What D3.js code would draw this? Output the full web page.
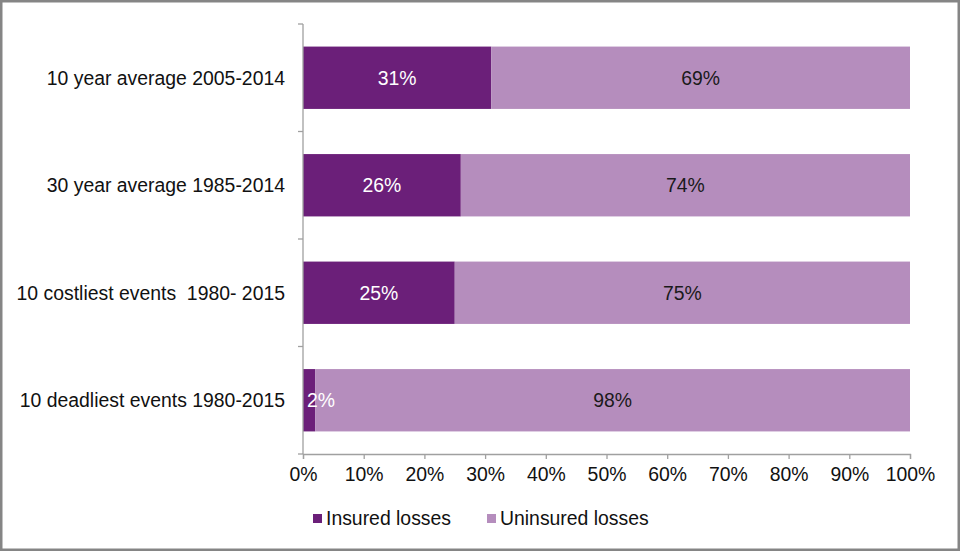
<!DOCTYPE html>
<html><head><meta charset="utf-8">
<script src="https://cdn.jsdelivr.net/npm/d3@7"></script>
<style>html,body{margin:0;padding:0;background:#fff;}svg{display:block;font-family:"Liberation Sans",Arial,sans-serif;}text{white-space:pre;}</style>
</head><body>
<script>
const categories = ["10 year average 2005-2014","30 year average 1985-2014","10 costliest events  1980- 2015","10 deadliest events 1980-2015"];
const insured = [31, 26, 25, 2];
const uninsured = [69, 74, 75, 98];
const seriesNames = ["Insured losses","Uninsured losses"];
const xTicks = [0,10,20,30,40,50,60,70,80,90,100];

const W = 960, H = 551, FS = 19.4;
const svg = d3.select("body").append("svg").attr("width", W).attr("height", H);
svg.append("rect").attr("x",1.25).attr("y",1.25).attr("width",W-2.5).attr("height",H-2.5)
  .attr("fill","#fff").attr("stroke","#858585").attr("stroke-width",2.5);

const colors = ["#6B1F79", "#B58DBD"];
const x = d3.scaleLinear().domain([0,100]).range([303, 910]);
const y = d3.scaleBand().domain(categories).range([24, 454]).paddingInner(0.42).paddingOuter(0.21);

const data = categories.map((c,i)=>({cat:c, vals:[insured[i], uninsured[i]]}));
const gBars = svg.append("g"), gLab = svg.append("g");
data.forEach(d=>{
  let acc = 0;
  d.vals.forEach((v,j)=>{
    gBars.append("rect").attr("x", x(acc)).attr("y", y(d.cat)).attr("width", x(acc+v)-x(acc))
      .attr("height", y.bandwidth()).attr("fill", colors[j]);
    const w = x(acc+v)-x(acc);
    const cx = w < 30 ? x(acc) + 18 : (x(acc)+x(acc+v))/2;
    gLab.append("text").attr("x", cx)
      .attr("y", y(d.cat)+y.bandwidth()/2).attr("dy","0.36em").attr("text-anchor","middle")
      .attr("font-size", FS).attr("fill", j===0 ? "#fff" : "#1a1a1a").text(v+"%");
    acc += v;
  });
});

// y axis
const yAxisG = svg.append("g").attr("transform","translate(303,0)");
yAxisG.append("line").attr("x1",0).attr("x2",0).attr("y1",24).attr("y2",454).attr("stroke","#a0a0a0").attr("stroke-width",1.3);
d3.range(categories.length+1).forEach(i=>{
  const yy = 24 + i*(430/categories.length);
  yAxisG.append("line").attr("x1",-5).attr("x2",0).attr("y1",yy).attr("y2",yy).attr("stroke","#a0a0a0").attr("stroke-width",1.3);
});
categories.forEach(c=>{
  svg.append("text").attr("x",285).attr("y", y(c)+y.bandwidth()/2).attr("dy","0.36em")
    .attr("text-anchor","end").attr("font-size",FS).attr("fill","#111").text(c);
});

// x axis
const xAxis = d3.axisBottom(x).tickValues(xTicks).tickFormat(d=>d+"%").tickSize(5).tickPadding(8);
const xg = svg.append("g").attr("transform","translate(0,454)").call(xAxis);
xg.select(".domain").attr("stroke","#a0a0a0").attr("stroke-width",1.3);
xg.selectAll(".tick line").attr("stroke","#a0a0a0").attr("stroke-width",1.3);
xg.selectAll(".tick text").attr("font-size",FS).attr("fill","#111").attr("font-family","Liberation Sans, Arial, sans-serif");

// legend
const legX = [313, 487];
seriesNames.forEach((n,i)=>{
  svg.append("rect").attr("x",legX[i]).attr("y",514).attr("width",9).attr("height",9).attr("fill",colors[i]);
  svg.append("text").attr("x",legX[i]+13).attr("y",525).attr("font-size",FS).attr("fill","#111").text(n);
});
</script>
</body></html>
